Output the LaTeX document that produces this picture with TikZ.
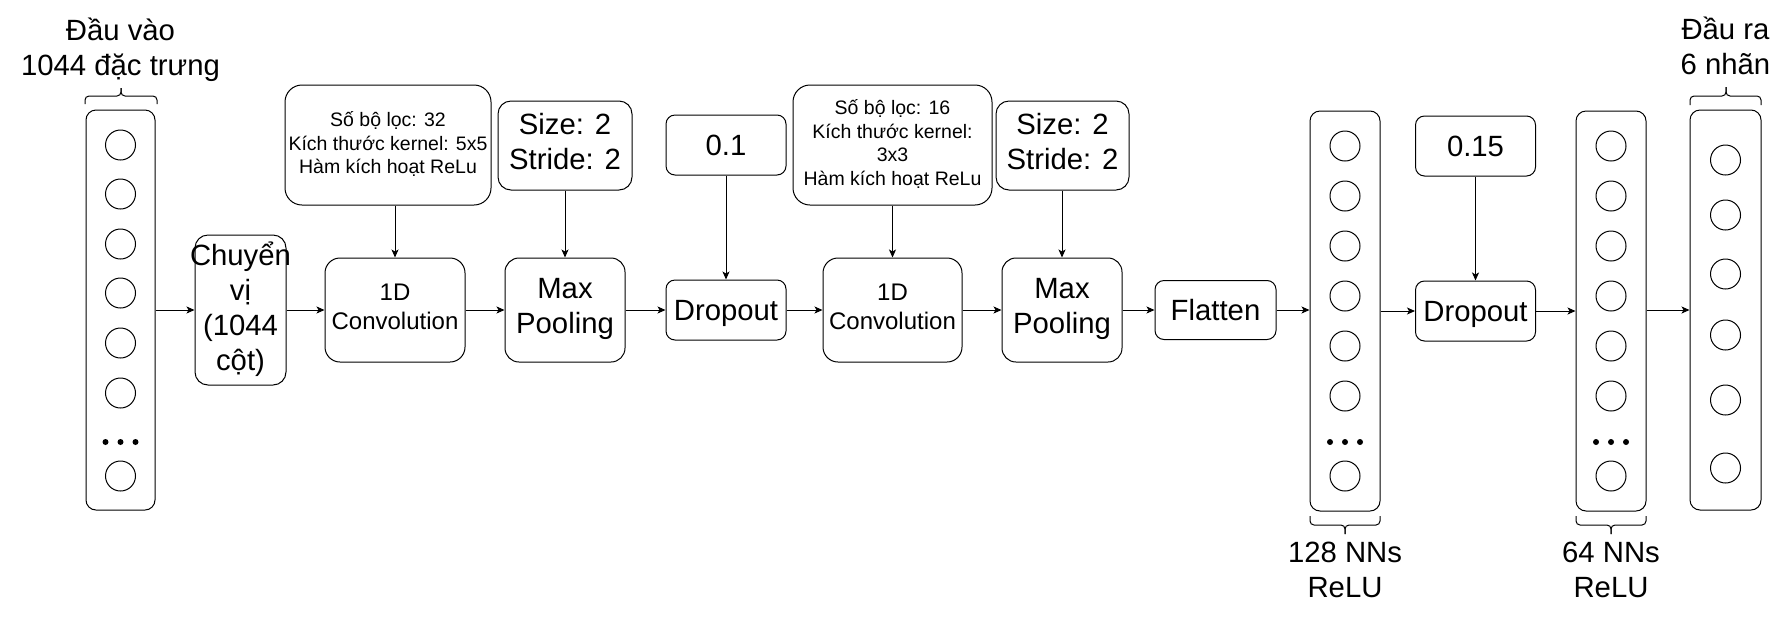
\documentclass[tikz,border=0pt]{standalone}
\usepackage{fontspec}
\setmainfont{Liberation Sans}
\usetikzlibrary{arrows.meta}
\newcommand\dstrut{\vrule height 0.79\baselineskip depth 0.21\baselineskip width 0pt\relax}
\begin{document}
\begin{tikzpicture}[x=1pt,y=-1pt,line width=1pt,
  blk/.style={draw, rounded corners=#1, inner sep=0pt, align=center,
    execute at begin node=\dstrut},
  lbl/.style={inner sep=0pt, align=center, execute at begin node=\dstrut},
  big/.style={font=\fontsize{29.3}{35}\selectfont},
  mid/.style={font=\fontsize{24}{29.5}\selectfont},
  sml/.style={font=\fontsize{19.5}{23.8}\selectfont},
  arr/.style={-{Stealth[length=8pt,width=7pt,inset=2pt]}},
  neuron/.style={draw, circle, minimum size=30pt, inner sep=0pt},
  ndot/.style={fill, circle, minimum size=6pt, inner sep=0pt},
  brc/.style={rounded corners=4pt}
]
\useasboundingbox (0,0) rectangle (1790,625);

% ---- columns ----
\node[blk=10pt, minimum width=69pt, minimum height=400pt] (in) at (120.5,310) {};
\node[blk=10pt, minimum width=70pt, minimum height=400pt] (d1) at (1345,311) {};
\node[blk=10pt, minimum width=70pt, minimum height=400pt] (d2) at (1611,311) {};
\node[blk=10pt, minimum width=71pt, minimum height=400pt] (out) at (1725.5,310) {};

\foreach \y [count=\i] in {145,194,244,293,343,393,476}
  \node[neuron] (inN\i) at (120.5,\y) {};
\foreach \dx [count=\i] in {-15,0,15}
  \node[ndot] (inD\i) at (120.5+\dx,442) {};

\foreach \y [count=\i] in {146,196,246,296,346,396,476}
  \node[neuron] (aN\i) at (1345,\y) {};
\foreach \dx [count=\i] in {-15,0,15}
  \node[ndot] (aD\i) at (1345+\dx,442) {};

\foreach \y [count=\i] in {146,196,246,296,346,396,476}
  \node[neuron] (bN\i) at (1611,\y) {};
\foreach \dx [count=\i] in {-15,0,15}
  \node[ndot] (bD\i) at (1611+\dx,442) {};

\foreach \y [count=\i] in {160,215,274,335,400,468}
  \node[neuron] (oN\i) at (1725.5,\y) {};

% ---- processing boxes ----
\node[blk=13pt, minimum width=91pt, minimum height=150pt] (chuyen) at (240.5,310) {};
\node[lbl, big] (chuyentxt) at (chuyen) {Chuyển\\vị\\(1044\\cột)\dstrut};

\node[blk=15pt, mid, minimum width=140pt, minimum height=104pt] (c1) at (395,310) {1D\\Convolution\dstrut};
\node[blk=17pt, sml, minimum width=206pt, minimum height=120pt] (c1p) at (388,145) {Số bộ lọc: 32\\Kích thước kernel: 5x5\\Hàm kích hoạt ReLu\dstrut};

\node[blk=14pt, big, minimum width=120pt, minimum height=104pt] (p1) at (565,310) {Max\\Pooling\dstrut};
\node[blk=13pt, big, minimum width=134pt, minimum height=89pt] (p1p) at (565,145.5) {Size: 2\\Stride: 2\dstrut};

\node[blk=9pt, big, minimum width=120pt, minimum height=60pt] (dr1) at (726,310) {Dropout};
\node[blk=9pt, big, minimum width=120pt, minimum height=60pt] (dr1p) at (726,145) {0.1};

\node[blk=15pt, mid, minimum width=139pt, minimum height=104pt] (c2) at (892.5,310) {1D\\Convolution\dstrut};
\node[blk=17pt, sml, minimum width=199pt, minimum height=120pt] (c2p) at (892.5,145) {Số bộ lọc: 16\\Kích thước kernel:\\3x3\\Hàm kích hoạt ReLu\dstrut};

\node[blk=14pt, big, minimum width=120pt, minimum height=104pt] (p2) at (1062,310) {Max\\Pooling\dstrut};
\node[blk=13pt, big, minimum width=133pt, minimum height=89pt] (p2p) at (1062.5,145.5) {Size: 2\\Stride: 2\dstrut};

\node[blk=9pt, big, minimum width=121pt, minimum height=59pt] (fl) at (1215.5,310) {Flatten};

\node[blk=9pt, big, minimum width=120pt, minimum height=60pt] (dr2) at (1475.5,311) {Dropout};
\node[blk=9pt, big, minimum width=120pt, minimum height=60pt] (dr2p) at (1475.5,146) {0.15};

% ---- labels ----
\node[lbl, big] (inlbl) at (120.5,50.5) {Đầu vào\\1044 đặc trưng\dstrut};
\node[lbl, big] (outlbl) at (1725.5,49.5) {Đầu ra\\6 nhãn\dstrut};
\node[lbl, big] (d1lbl) at (1345,573) {128 NNs\\ReLU\dstrut};
\node[lbl, big] (d2lbl) at (1611,573) {64 NNs\\ReLU\dstrut};

% ---- braces ----
\draw[brc] (85,104) -- (85,96) -- (121,96) -- (121,88);
\draw[brc] (157,104) -- (157,96) -- (121,96) -- (121,88);
\draw[brc] (1690,105) -- (1690,96) -- (1726,96) -- (1726,87);
\draw[brc] (1761,105) -- (1761,96) -- (1726,96) -- (1726,87);
\draw[brc] (1310,516) -- (1310,525) -- (1345,525) -- (1345,534);
\draw[brc] (1380,516) -- (1380,525) -- (1345,525) -- (1345,534);
\draw[brc] (1576,516) -- (1576,525) -- (1611,525) -- (1611,534);
\draw[brc] (1646,516) -- (1646,525) -- (1611,525) -- (1611,534);

% ---- connectors ----
\draw[arr] (in.east) -- (chuyen.west);
\draw[arr] (chuyen.east) -- (c1.west);
\draw[arr] (c1.east) -- (p1.west);
\draw[arr] (p1.east) -- (dr1.west);
\draw[arr] (dr1.east) -- (c2.west);
\draw[arr] (c2.east) -- (p2.west);
\draw[arr] (p2.east) -- (fl.west);
\draw[arr] (fl.east) -- (fl.east -| d1.west);
\draw[arr] (d1.east |- dr2.west) -- (dr2.west);
\draw[arr] (dr2.east) -- (dr2.east -| d2.west);
\draw[arr] (d2.east |- out.west) -- (out.west);

\draw[arr] (c1p.south -| c1.north) -- (c1.north);
\draw[arr] (p1p.south -| p1.north) -- (p1.north);
\draw[arr] (dr1p.south -| dr1.north) -- (dr1.north);
\draw[arr] (c2p.south -| c2.north) -- (c2.north);
\draw[arr] (p2p.south -| p2.north) -- (p2.north);
\draw[arr] (dr2p.south -| dr2.north) -- (dr2.north);
\end{tikzpicture}
\end{document}
